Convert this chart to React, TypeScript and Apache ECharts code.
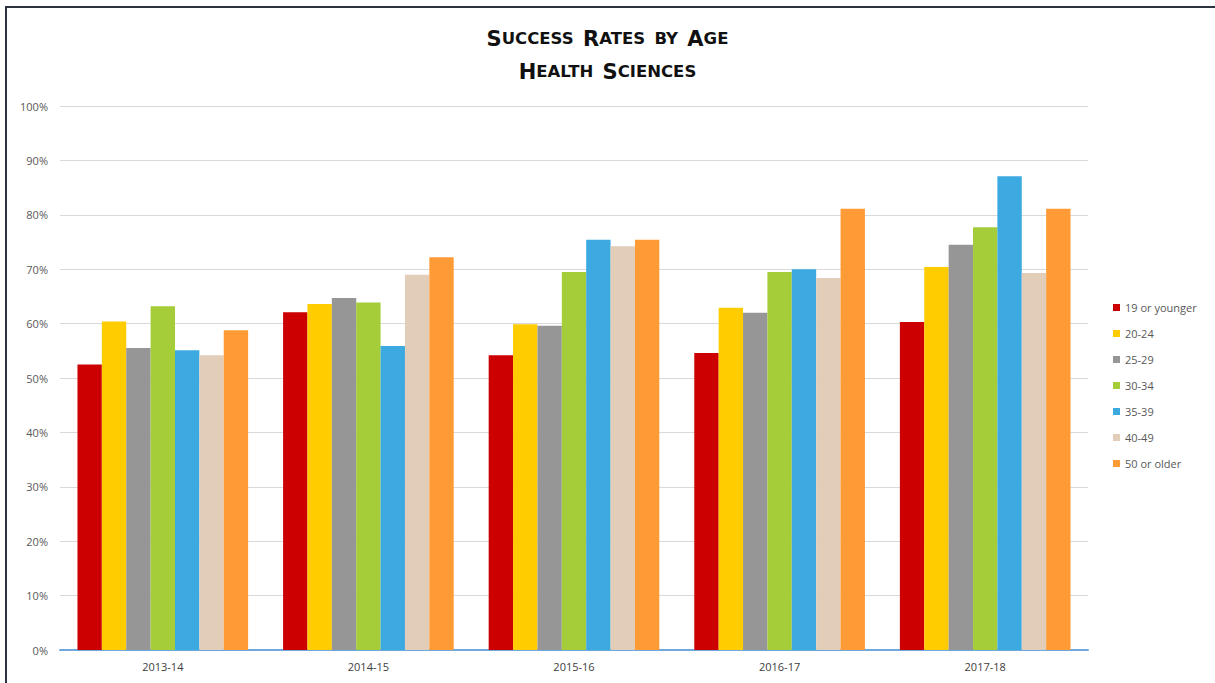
import React, { useEffect, useRef } from "react";
import * as echarts from "echarts";

const categories = ["2013-14", "2014-15", "2015-16", "2016-17", "2017-18"];
const seriesNames = ["19 or younger", "20-24", "25-29", "30-34", "35-39", "40-49", "50 or older"];
const colors = ["#cc0000", "#ffcc00", "#969696", "#a5cd39", "#3ca9e0", "#e2cdb9", "#ff9b37"];

const age19 = [52.5, 62.1, 54.2, 54.6, 60.3];
const age20 = [60.4, 63.6, 59.9, 62.9, 70.4];
const age25 = [55.5, 64.7, 59.6, 62.0, 74.5];
const age30 = [63.2, 63.9, 69.5, 69.5, 77.7];
const age35 = [55.1, 55.9, 75.4, 70.0, 87.1];
const age40 = [54.2, 69.0, 74.2, 68.4, 69.3];
const age50 = [58.8, 72.2, 75.4, 81.1, 81.1];
const seriesValues = [age19, age20, age25, age30, age35, age40, age50];

export default function App() {
  const ref = useRef<HTMLDivElement>(null);
  useEffect(() => {
    document.body.style.margin = "0";
    const chart = echarts.init(ref.current!, undefined, { renderer: "svg" });
    const font = "'Open Sans', 'Liberation Sans', sans-serif";
    const titleFont = "'DejaVu Sans', sans-serif";
    chart.setOption({
      animation: false,
      backgroundColor: "#ffffff",
      textStyle: { fontFamily: font },
      graphic: [
        {
          type: "rect",
          shape: { x: 6, y: 7, width: 1230, height: 700 },
          style: { fill: "none", stroke: "#2b3340", lineWidth: 2 },
          silent: true,
        },
      ],
      title: {
        left: "center",
        top: 17,
        text:
          "{a|S}{b|UCCESS}  {a|R}{b|ATES}  {b|BY}  {a|A}{b|GE}\n{a|H}{b|EALTH}  {a|S}{b|CIENCES}",
        textStyle: {
          rich: {
            a: { fontSize: 21, fontWeight: "bold", color: "#111111", fontFamily: titleFont, lineHeight: 33 },
            b: { fontSize: 16.5, fontWeight: "bold", color: "#111111", fontFamily: titleFont, lineHeight: 33 },
          },
        },
      },
      legend: {
        orient: "vertical",
        left: 1108,
        top: 297,
        itemWidth: 7,
        itemHeight: 7,
        itemGap: 15,
        icon: "rect",
        textStyle: { fontSize: 11, color: "#595959", fontFamily: font },
        data: seriesNames,
      },
      grid: { left: 60, right: 127, top: 106, bottom: 33, containLabel: false },
      xAxis: {
        type: "category",
        data: categories,
        axisLine: { lineStyle: { color: "#6fa8dc", width: 2 } },
        axisTick: { show: false },
        axisLabel: { fontSize: 11, color: "#404040", margin: 11, fontFamily: font },
      },
      yAxis: {
        type: "value",
        min: 0,
        max: 100,
        interval: 10,
        axisLine: { show: false },
        axisTick: { show: false },
        splitLine: { lineStyle: { color: "#d9d9d9", width: 1 } },
        axisLabel: { formatter: "{value}%", fontSize: 11, color: "#595959", margin: 12, fontFamily: font },
      },
      series: seriesNames.map((name, i) => ({
        name,
        type: "bar",
        data: seriesValues[i],
        itemStyle: { color: colors[i] },
        barGap: "0%",
        barCategoryGap: "17%",
      })),
    });
    return () => chart.dispose();
  }, []);
  return <div ref={ref} style={{ width: 1215, height: 683 }} />;
}
